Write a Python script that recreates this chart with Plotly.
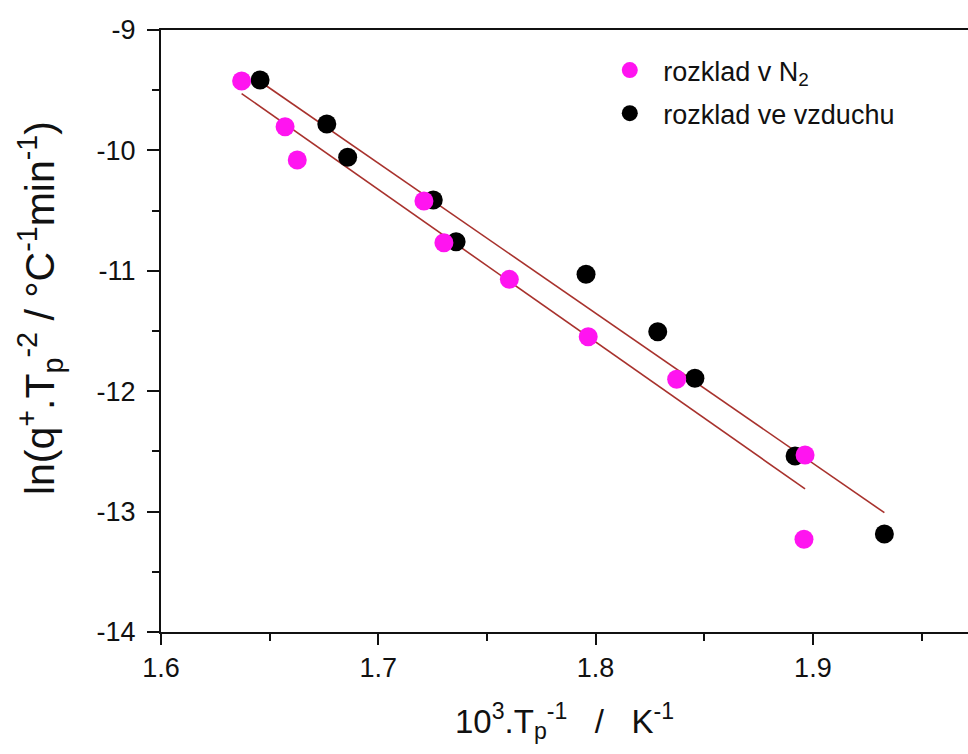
import numpy as np
import plotly.graph_objects as go

# Data: decomposition in N2 (magenta) and in air (black)
x_n2 = [1.6371, 1.6571, 1.6627, 1.7210, 1.7302, 1.7603, 1.7966, 1.8373, 1.8964, 1.8959]
y_n2 = [-9.424, -9.803, -10.080, -10.420, -10.767, -11.071, -11.547, -11.901, -12.530, -13.230]

x_air = [1.6456, 1.6763, 1.6859, 1.7253, 1.7358, 1.7956, 1.8286, 1.8457, 1.8918, 1.9329]
y_air = [-9.415, -9.781, -10.057, -10.412, -10.758, -11.029, -11.506, -11.893, -12.538, -13.186]

name_n2 = "rozklad v N<sub>2</sub>"
name_air = "rozklad ve vzduchu"
y_title = "ln(q<sup>+</sup>.T<sub>p</sub><sup>-2</sup> / \u00b0C<sup>-1</sup>min<sup>-1</sup>)"
x_title = "10<sup>3</sup>.T<sub>p</sub><sup>-1</sup>\u00a0\u00a0\u00a0/\u00a0\u00a0\u00a0K<sup>-1</sup>"

FONT = "Liberation Sans, Arial, sans-serif"
LINE_COLOR = "#a8322d"

fig = go.Figure()


def fit_line(xs, ys):
    k, q = np.polyfit(xs, ys, 1)
    xx = np.array([min(xs), max(xs)])
    return xx, k * xx + q


for xs, ys in [(x_n2, y_n2), (x_air, y_air)]:
    fx, fy = fit_line(xs, ys)
    fig.add_trace(go.Scatter(x=fx, y=fy, mode="lines", showlegend=False,
                             line=dict(color=LINE_COLOR, width=1.6), hoverinfo="skip"))

fig.add_trace(go.Scatter(x=x_air, y=y_air, mode="markers", name=name_air,
                         legendgroup="b", legendrank=2,
                         marker=dict(color="#000000", size=19)))
fig.add_trace(go.Scatter(x=x_n2, y=y_n2, mode="markers", name=name_n2,
                         legendgroup="a", legendrank=1,
                         marker=dict(color="#ff14f0", size=19)))

fig.add_annotation(text=y_title, textangle=-90, xref="paper", yref="paper",
                   x=-0.150, y=0.538, xanchor="center", yanchor="middle",
                   showarrow=False, font=dict(size=41, family=FONT, color="#111111"))

fig.update_layout(
    width=968, height=754,
    margin=dict(l=161, r=0, t=30, b=122),
    paper_bgcolor="white", plot_bgcolor="white",
    font=dict(family=FONT, color="#111111", size=27),
    showlegend=True,
    legend=dict(x=0.5394, y=0.9734, xanchor="left", yanchor="top",
                font=dict(size=27, family=FONT, color="#111111"),
                bgcolor="rgba(0,0,0,0)", traceorder="grouped", tracegroupgap=5,
                itemwidth=57),
    xaxis=dict(range=[1.6, 1.97138], tickvals=[1.6, 1.7, 1.8, 1.9],
               ticktext=["1.6", "1.7", "1.8", "1.9"],
               showline=True, linecolor="#111111", linewidth=2, mirror=True,
               ticks="outside", ticklen=11, tickwidth=2, tickcolor="#111111",
               minor=dict(tickvals=[1.65, 1.75, 1.85, 1.95], ticks="outside", ticklen=7,
                          tickwidth=2, tickcolor="#111111", showgrid=False),
               showgrid=False, zeroline=False,
               tickfont=dict(size=27, family=FONT),
               title=dict(text=x_title, font=dict(size=33, family=FONT), standoff=27)),
    yaxis=dict(range=[-14, -9], tickvals=[-14, -13, -12, -11, -10, -9],
               ticktext=["-14", "-13", "-12", "-11", "-10", "-9"],
               showline=True, linecolor="#111111", linewidth=2, mirror=False,
               ticks="outside", ticklen=12, tickwidth=2, tickcolor="#111111",
               ticklabelstandoff=6,
               minor=dict(tickvals=[-13.5, -12.5, -11.5, -10.5, -9.5], ticks="outside", ticklen=7,
                          tickwidth=2, tickcolor="#111111", showgrid=False),
               showgrid=False, zeroline=False,
               tickfont=dict(size=27, family=FONT)),
)

fig.write_html("out.html")
